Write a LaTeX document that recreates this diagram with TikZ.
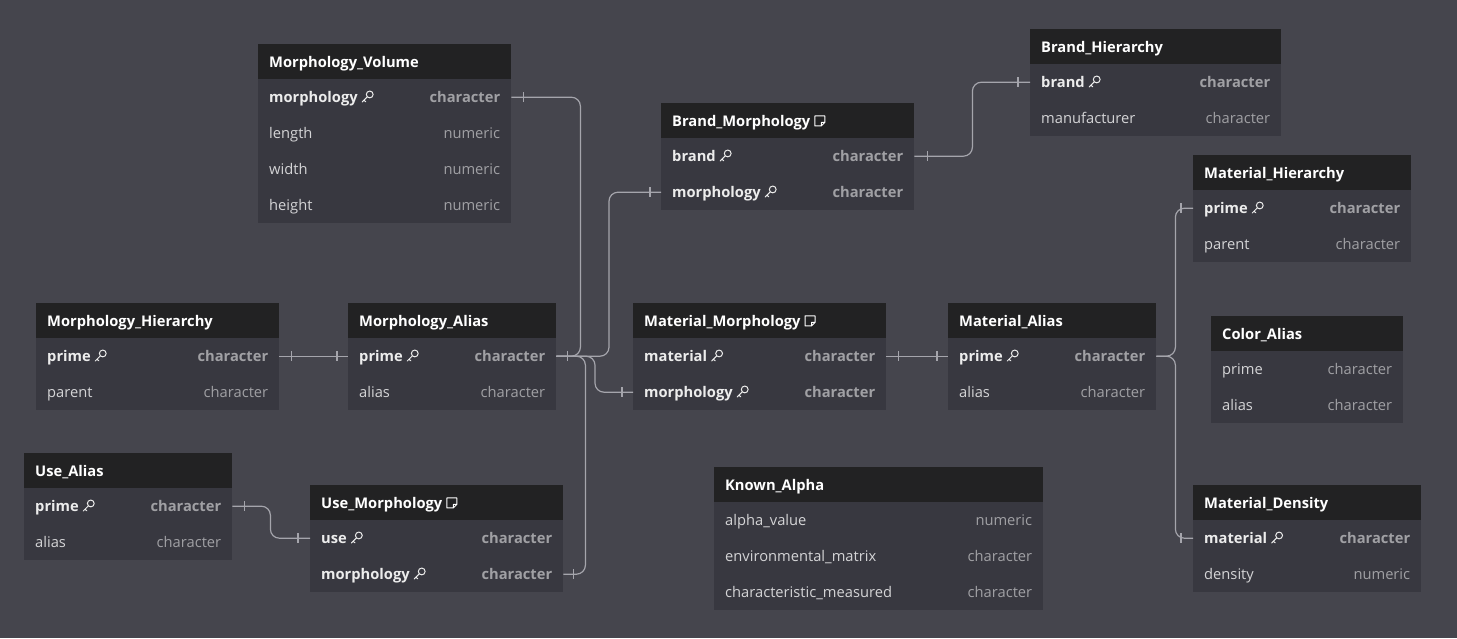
\documentclass[tikz,border=0pt]{standalone}
\usepackage{fontspec}
\setmainfont{Open Sans}
\usetikzlibrary{calc}
\definecolor{bgc}{RGB}{69,69,77}
\definecolor{hdrc}{RGB}{34,34,35}
\definecolor{bodyc}{RGB}{56,56,64}
\definecolor{titlec}{RGB}{255,255,255}
\definecolor{keyc}{RGB}{236,236,236}
\definecolor{fieldc}{RGB}{212,212,214}
\definecolor{typec}{RGB}{160,160,164}
\definecolor{connc}{RGB}{165,165,172}
\newcommand\keyicon{\hspace{4pt}\tikz[x=1pt,y=1pt,baseline=0pt,line width=1pt]{\draw[keyc] (8.5,8.5) circle (3.4);\draw[keyc,line cap=round] (6.1,6.1) -- (1,1) (2.7,2.7) -- (4.6,1.1);}}
\newcommand\noteicon{\hspace{4pt}\tikz[x=1pt,y=1pt,baseline=0pt,line width=1pt]{\draw[titlec,line join=round] (0,0.5) -- (0,10.5) -- (10,10.5) -- (10,4) -- (6.5,0.5) -- cycle (6.5,0.5) -- (6.5,4) -- (10,4);}}
\tikzset{
  hdr/.style={anchor=north west,fill=hdrc,minimum height=35pt,inner xsep=11pt,inner ysep=0pt,align=left,text height=13pt,text depth=1.5pt,font=\fontsize{14.7}{17}\selectfont\bfseries,text=titlec},
  rowbox/.style={anchor=north west,fill=bodyc,minimum height=36pt,inner xsep=11pt,inner ysep=0pt,align=left,text height=13pt,text depth=1.5pt,font=\fontsize{14.7}{17}\selectfont},
  conn/.style={draw=connc,line width=1.2pt,rounded corners=9pt},
  tk/.style={draw=connc,line width=1.2pt}
}
\newcommand\ertable[6]{%
  \pgfmathsetmacro\tw{#4-22}%
  \node[hdr,text width=\tw pt] (#1) at (#2,#3) {#5};
  \foreach [count=\i] \n/\t/\k in {#6} {
    \pgfmathsetmacro\yy{#3+35+(\i-1)*36}
    \node[rowbox,text width=\tw pt] (#1-\i) at (#2,\yy) {\ifnum\k=1 \bfseries\color{keyc}\n\keyicon\else\color{fieldc}\n\fi\hfill{\color{typec}\t}};
  }
}
\newcommand\tickat[2]{\draw[tk] ([xshift=#2]#1) ++(0,-5) -- ++(0,10);}
\begin{document}
\begin{tikzpicture}[x=1pt,y=-1pt]
\fill[bgc] (0,0) rectangle (1457,638);
\useasboundingbox (0,0) rectangle (1457,638);
\ertable{mv}{258}{44}{253}{Morphology\_Volume}{morphology/character/1,length/numeric/0,width/numeric/0,height/numeric/0}
\ertable{bh}{1030}{29}{251}{Brand\_Hierarchy}{brand/character/1,manufacturer/character/0}
\ertable{bm}{661}{103}{253}{Brand\_Morphology\noteicon}{brand/character/1,morphology/character/1}
\ertable{mhr}{1193}{155}{218}{Material\_Hierarchy}{prime/character/1,parent/character/0}
\ertable{mhi}{36}{303}{243}{Morphology\_Hierarchy}{prime/character/1,parent/character/0}
\ertable{ma}{348}{303}{208}{Morphology\_Alias}{prime/character/1,alias/character/0}
\ertable{mm}{633}{303}{253}{Material\_Morphology\noteicon}{material/character/1,morphology/character/1}
\ertable{mal}{948}{303}{208}{Material\_Alias}{prime/character/1,alias/character/0}
\ertable{ca}{1211}{316}{192}{Color\_Alias}{prime/character/0,alias/character/0}
\ertable{ua}{24}{453}{208}{Use\_Alias}{prime/character/1,alias/character/0}
\ertable{um}{310}{485}{253}{Use\_Morphology\noteicon}{use/character/1,morphology/character/1}
\ertable{ka}{714}{467}{329}{Known\_Alpha}{alpha\_value/numeric/0,environmental\_matrix/character/0,characteristic\_measured/character/0}
\ertable{md}{1193}{485}{228}{Material\_Density}{material/character/1,density/numeric/0}
% connectors
\draw[conn] (mv-1.east) -- ++(69,0) |- (ma-1.east);
\draw[conn] (bm-2.west) -- ++(-52,0) |- (ma-1.east);
\draw[conn] (mm-2.west) -- ++(-38,0) |- (ma-1.east);
\draw[conn] (um-2.east) -- ++(22,0) |- (ma-1.east);
\draw[conn] (mhi-1.east) -- (ma-1.west);
\draw[conn] (bm-1.east) -- ++(58,0) |- (bh-1.west);
\draw[conn] (mm-1.east) -- (mal-1.west);
\draw[conn] (mal-1.east) -- ++(19,0) |- (mhr-1.west);
\draw[conn] (mal-1.east) -- ++(19,0) |- (md-1.west);
\draw[conn] (ua-1.east) -- ++(38,0) |- (um-1.west);
% ticks
\tickat{mv-1.east}{12}
\tickat{ma-1.east}{11}
\tickat{bm-2.west}{-11}
\tickat{mm-2.west}{-11}
\tickat{um-2.east}{10}
\tickat{mhi-1.east}{12}
\tickat{ma-1.west}{-11}
\tickat{bm-1.east}{13}
\tickat{bh-1.west}{-12}
\tickat{mm-1.east}{12}
\tickat{mal-1.west}{-11}
\tickat{mhr-1.west}{-12}
\tickat{md-1.west}{-12}
\tickat{ua-1.east}{12}
\tickat{um-1.west}{-12}
\end{tikzpicture}
\end{document}
